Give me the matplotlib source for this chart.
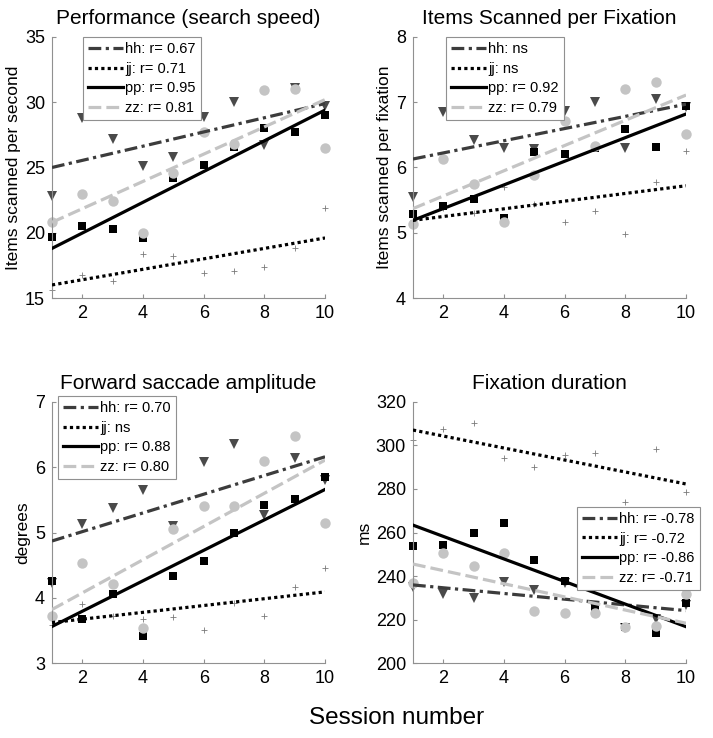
import matplotlib.pyplot as plt
import numpy as np

plt.rcParams["font.family"] = ["Liberation Sans", "DejaVu Sans"]

sessions = np.arange(1, 11)
subjects = ["hh", "jj", "pp", "zz"]

# panel 1: performance (items scanned per second)
speed_hh = [22.8, 28.8, 27.2, 25.1, 25.8, 28.9, 30.0, 26.7, 31.1, 29.7]
speed_jj = [15.6, 16.8, 16.3, 18.4, 18.2, 16.9, 17.1, 17.4, 18.8, 21.9]
speed_pp = [19.7, 20.5, 20.3, 19.6, 24.2, 25.2, 26.6, 28.0, 27.7, 29.0]
speed_zz = [20.8, 23.0, 22.4, 20.0, 24.6, 27.7, 26.8, 30.9, 31.05, 26.5]
speed_fit_start = [25.0, 16.0, 18.8, 20.8]
speed_fit_end = [29.9, 19.6, 29.4, 30.2]
speed_labels = ["hh: r= 0.67", "jj: r= 0.71", "pp: r= 0.95", "zz: r= 0.81"]

# panel 2: items scanned per fixation
perfix_hh = [5.55, 6.85, 6.42, 6.30, 6.28, 6.87, 7.01, 6.30, 7.05, 6.92]
perfix_jj = [5.20, 5.38, 5.30, 5.70, 5.44, 5.17, 5.34, 4.98, 5.78, 6.26]
perfix_pp = [5.28, 5.41, 5.51, 5.23, 6.23, 6.21, 6.30, 6.59, 6.32, 6.94]
perfix_zz = [5.13, 6.13, 5.75, 5.17, 5.88, 6.71, 6.33, 7.20, 7.31, 6.51]
perfix_fit_start = [6.13, 5.19, 5.19, 5.37]
perfix_fit_end = [6.97, 5.72, 6.82, 7.11]
perfix_labels = ["hh: ns", "jj: ns", "pp: r= 0.92", "zz: r= 0.79"]

# panel 3: forward saccade amplitude (degrees)
sacc_hh = [4.22, 5.13, 5.37, 5.65, 5.10, 6.08, 6.36, 5.27, 6.14, 5.80]
sacc_jj = [3.58, 3.90, 3.72, 3.68, 3.71, 3.50, 3.92, 3.72, 4.17, 4.46]
sacc_pp = [4.26, 3.67, 4.05, 3.41, 4.33, 4.57, 4.99, 5.42, 5.52, 5.85]
sacc_zz = [3.72, 4.54, 4.21, 3.54, 5.05, 5.41, 5.41, 6.09, 6.48, 5.15]
sacc_fit_start = [4.87, 3.62, 3.56, 3.82]
sacc_fit_end = [6.16, 4.09, 5.66, 6.11]
sacc_labels = ["hh: r= 0.70", "jj: ns", "pp: r= 0.88", "zz: r= 0.80"]

# panel 4: fixation duration (ms)
fixdur_hh = [235.0, 231.6, 229.7, 237.4, 233.6, 237.0, 225.5, 216.0, 220.1, 226.7]
fixdur_jj = [302.5, 307.4, 310.5, 294.4, 290.3, 295.6, 296.7, 274.2, 298.4, 278.6]
fixdur_pp = [253.8, 254.4, 259.6, 264.2, 247.5, 237.7, 225.9, 216.7, 213.9, 227.7]
fixdur_zz = [236.9, 250.4, 244.7, 250.7, 224.0, 223.1, 222.8, 216.7, 217.2, 231.7]
fixdur_fit_start = [235.9, 307.1, 263.4, 245.5]
fixdur_fit_end = [224.1, 282.3, 216.7, 218.3]
fixdur_labels = ["hh: r= -0.78", "jj: r= -0.72", "pp: r= -0.86", "zz: r= -0.71"]

line_styles = {
    "hh": dict(color="#3c3c3c", ls=(0, (4, 1.4, 1, 1.4))),
    "jj": dict(color="black", ls=(0, (1, 1))),
    "pp": dict(color="black", ls="-"),
    "zz": dict(color="#c4c4c4", ls=(0, (4, 1.6))),
}
marker_styles = {
    "hh": dict(marker="v", color="#4a4a4a", ms=6.5, mew=0),
    "jj": dict(marker="+", color="#7a7a7a", ms=5, mew=0.6),
    "pp": dict(marker="s", color="black", ms=6, mew=0),
    "zz": dict(marker="o", color="#c4c4c4", ms=7.5, mew=0),
}

panels = [
    dict(title="Performance (search speed)", ylabel="Items scanned per second",
         series=[speed_hh, speed_jj, speed_pp, speed_zz],
         fit0=speed_fit_start, fit1=speed_fit_end, labels=speed_labels,
         ylim=(15, 35), yticks=[15, 20, 25, 30, 35],
         pos=[0.0729, 0.5962, 0.383, 0.3537], leg=dict(loc="upper left", bbox_to_anchor=(0.113, 1.0))),
    dict(title="Items Scanned per Fixation", ylabel="Items scanned per fixation",
         series=[perfix_hh, perfix_jj, perfix_pp, perfix_zz],
         fit0=perfix_fit_start, fit1=perfix_fit_end, labels=perfix_labels,
         ylim=(4, 8), yticks=[4, 5, 6, 7, 8],
         pos=[0.5792, 0.5962, 0.383, 0.3537], leg=dict(loc="upper left", bbox_to_anchor=(0.121, 1.0))),
    dict(title="Forward saccade amplitude", ylabel="degrees",
         series=[sacc_hh, sacc_jj, sacc_pp, sacc_zz],
         fit0=sacc_fit_start, fit1=sacc_fit_end, labels=sacc_labels,
         ylim=(3, 7), yticks=[3, 4, 5, 6, 7],
         pos=[0.0729, 0.1016, 0.383, 0.3537], leg=dict(loc="upper left", bbox_to_anchor=(0.022, 1.023))),
    dict(title="Fixation duration", ylabel="ms",
         series=[fixdur_hh, fixdur_jj, fixdur_pp, fixdur_zz],
         fit0=fixdur_fit_start, fit1=fixdur_fit_end, labels=fixdur_labels,
         ylim=(200, 320), yticks=[200, 220, 240, 260, 280, 300, 320],
         pos=[0.5792, 0.1016, 0.383, 0.3537], leg=dict(loc="upper right", bbox_to_anchor=(1.05, 0.598))),
]

fig = plt.figure(figsize=(7.13, 7.38), dpi=100)

for p in panels:
    ax = fig.add_axes(p["pos"])
    handles = []
    for name, vals in zip(subjects, p["series"]):
        ax.plot(sessions, vals, ls="none", zorder=2, clip_on=False, **marker_styles[name])
    for name, y0, y1 in zip(subjects, p["fit0"], p["fit1"]):
        (h,) = ax.plot([sessions[0], sessions[-1]], [y0, y1], lw=2.3, zorder=3, **line_styles[name])
        handles.append(h)
    ax.set_xlim(1, 10)
    ax.set_ylim(*p["ylim"])
    ax.set_xticks([2, 4, 6, 8, 10])
    ax.set_yticks(p["yticks"])
    ax.tick_params(direction="in", length=3, color="#909090", labelsize=13, pad=5)
    for side in ["top", "right"]:
        ax.spines[side].set_visible(False)
    for side in ["left", "bottom"]:
        ax.spines[side].set_color("#909090")
    ax.set_title(p["title"], fontsize=15, pad=9)
    ax.set_ylabel(p["ylabel"], fontsize=12.5, labelpad=3)
    leg = ax.legend(handles, p["labels"], fontsize=10.5, handlelength=2.4, handletextpad=0.15,
                    labelspacing=0.38, borderpad=0.35, borderaxespad=0, fancybox=False,
                    framealpha=1, edgecolor="#909090", **p["leg"])
    leg.get_frame().set_linewidth(0.8)
    leg.set_zorder(5)

fig.text(0.556, 0.027, "Session number", ha="center", va="center", fontsize=17.5)

fig.savefig("out.png", dpi=100)
